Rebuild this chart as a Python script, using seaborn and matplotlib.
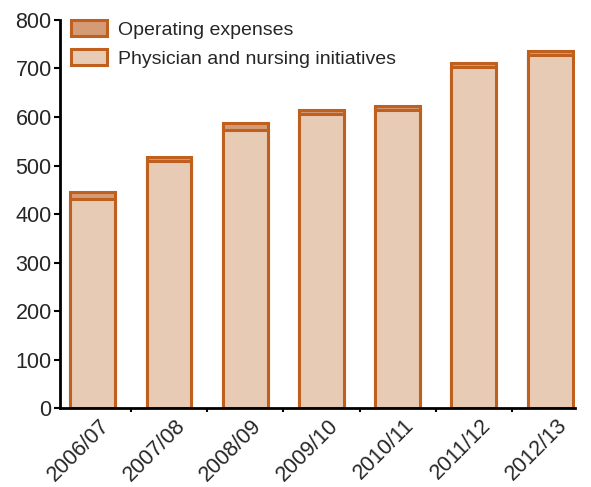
import matplotlib
matplotlib.use("Agg")
import matplotlib.pyplot as plt
import matplotlib.transforms as mtransforms
import seaborn as sns
import pandas as pd
import numpy as np
from matplotlib.patches import Patch
from matplotlib.ticker import FixedLocator

years = ["2006/07", "2007/08", "2008/09", "2009/10", "2010/11", "2011/12", "2012/13"]
physician_nursing = [431, 509, 574, 606, 615, 703, 727]
operating = [14, 8, 13, 8, 8, 8, 10]

sns.set_theme(style="white")
plt.rcParams['font.family'] = ['Liberation Sans Narrow', 'Liberation Sans', 'DejaVu Sans']

df = pd.DataFrame({
    "year": years,
    "phys": physician_nursing,
    "total": [a + b for a, b in zip(physician_nursing, operating)],
})

c_bottom = "#E8CBB5"
c_top = "#D49B76"
c_edge = "#C0601E"

fig = plt.figure(figsize=(5.91, 4.87), dpi=100)
ax = fig.add_axes([0.1015, 0.162, 0.872, 0.797])

sns.barplot(data=df, x="year", y="total", color=c_top, saturation=1,
            edgecolor=c_edge, linewidth=2.2, width=0.59, ax=ax)
sns.barplot(data=df, x="year", y="phys", color=c_bottom, saturation=1,
            edgecolor=c_edge, linewidth=2.2, width=0.59, ax=ax)

ax.set_ylim(0, 800)
ax.set_xlim(-0.43, 6.33)
ax.set_yticks(range(0, 801, 100))
ax.set_xlabel("")
ax.set_ylabel("")
ax.tick_params(axis="y", direction="out", length=4, width=1.5, color="black",
               labelsize=15.5, left=True, pad=2)
ax.tick_params(axis="x", which="major", length=0, labelsize=15.5, pad=5)
ax.xaxis.set_minor_locator(FixedLocator(np.arange(0.5, 6, 1)))
ax.tick_params(axis="x", which="minor", direction="out", length=3, width=1.5,
               color="black", bottom=True)
offset = mtransforms.ScaledTranslation(6 / 100, 0, fig.dpi_scale_trans)
for lab in ax.get_xticklabels():
    lab.set_rotation(45)
    lab.set_ha("right")
    lab.set_rotation_mode("anchor")
    lab.set_transform(lab.get_transform() + offset)

for s in ["top", "right"]:
    ax.spines[s].set_visible(False)
for s in ["left", "bottom"]:
    ax.spines[s].set_color("black")
    ax.spines[s].set_linewidth(2)

handles = [Patch(facecolor=c_top, edgecolor=c_edge, linewidth=2.2, label="Operating expenses"),
           Patch(facecolor=c_bottom, edgecolor=c_edge, linewidth=2.2, label="Physician and nursing initiatives")]
ax.legend(handles=handles, loc="upper left", bbox_to_anchor=(-0.006, 1.035), frameon=False,
          fontsize=14, handlelength=1.9, handleheight=0.87, labelspacing=0.55,
          handletextpad=0.55, borderaxespad=0.3)

fig.savefig("out.png", dpi=100)
